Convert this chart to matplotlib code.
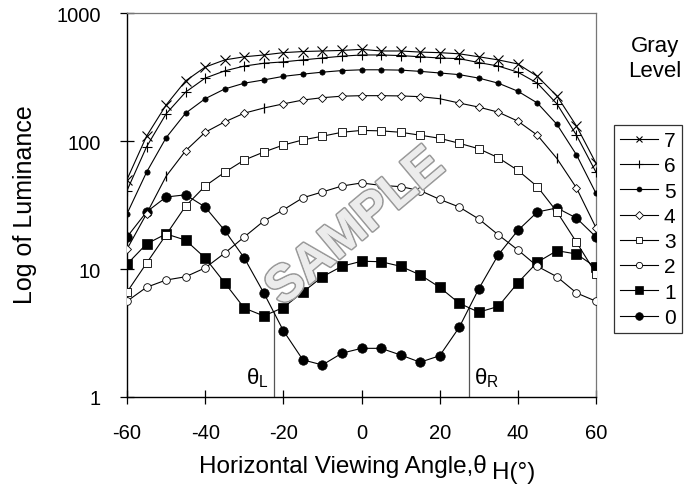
import numpy as np
import matplotlib
matplotlib.use("Agg")
import matplotlib.pyplot as plt
from matplotlib.lines import Line2D
import matplotlib.patheffects as pe

plt.rcParams['font.family'] = ['Liberation Sans', 'DejaVu Sans']
plt.rcParams['mathtext.fontset'] = 'custom'
plt.rcParams['mathtext.rm'] = 'Liberation Sans'
plt.rcParams['mathtext.it'] = 'Liberation Sans'
plt.rcParams['axes.unicode_minus'] = False

angles = list(range(-60, 61, 5))
gray_levels = ['7', '6', '5', '4', '3', '2', '1', '0']

L7 = [50, 109, 191, 295, 378, 430, 455, 470, 490, 500, 505, 510, 520, 505, 505, 495, 490, 480, 455, 430, 400, 320, 225, 131, 67]
L6 = [41, 90, 163, 241, 310, 353, 385, 405, 415, 430, 445, 460, 470, 470, 465, 455, 445, 440, 410, 385, 345, 283, 195, 111, 57]
L5 = [27, 57, 106, 165, 214, 255, 283, 300, 320, 333, 345, 355, 360, 360, 358, 350, 340, 330, 310, 283, 245, 198, 135, 78, 39]
L4 = [14.3, 27, 53, 84, 117, 141, 165, 181, 195, 209, 218, 224, 226, 226, 225, 222, 214, 198, 184, 168, 143, 111, 73, 43, 21]
L3 = [6.6, 11.1, 18.5, 31, 44.5, 57, 71, 82, 93, 102, 109, 117, 121, 120, 117, 111, 105, 96, 87, 74, 59, 44, 28, 16.2, 9.2]
L2 = [5.6, 7.2, 8.2, 8.7, 10.2, 13.3, 17.8, 23.7, 29, 36, 40, 44.5, 47, 45, 44, 41, 35, 30.5, 24.6, 18.5, 14.1, 10.5, 8.7, 6.5, 5.6]
L1 = [10.9, 15.7, 18.8, 16.8, 12.2, 7.8, 4.95, 4.3, 5.0, 6.6, 8.7, 10.5, 11.5, 11.4, 10.5, 9.0, 7.2, 5.4, 4.6, 5.1, 7.8, 11.3, 13.9, 13.1, 10.3]
L0 = [17.8, 27.9, 36.5, 38, 30.5, 20, 12.2, 6.5, 3.3, 1.95, 1.78, 2.2, 2.4, 2.4, 2.13, 1.87, 2.1, 3.5, 7.0, 12.9, 20, 27.9, 30, 25, 17.8]

theta_L = -22.5
theta_L_top = 4.6
theta_R = 27.5
theta_R_top = 5.0

xticks = [-60, -40, -20, 0, 20, 40, 60]
yticks = [1, 10, 100, 1000]
ytick_labels = ['1', '10', '100', '1000']

W, H = 685, 485
fig = plt.figure(figsize=(W / 100, H / 100), dpi=100)
ax = fig.add_axes([127/W, 1-398/H, (596-127)/W, (398-14)/H])

series = [L7, L6, L5, L4, L3, L2, L1, L0]
styles = [
    dict(marker='x', ms=6.5, mfc='none', mec='black', mew=0.8),
    dict(marker='+', ms=7, mfc='none', mec='black', mew=0.8),
    dict(marker='o', ms=3.8, mfc='black', mec='black', mew=0.5),
    dict(marker='D', ms=4.2, mfc='white', mec='black', mew=0.6),
    dict(marker='s', ms=5.5, mfc='white', mec='black', mew=0.6),
    dict(marker='o', ms=5.5, mfc='white', mec='black', mew=0.6),
    dict(marker='s', ms=6.5, mfc='black', mec='black', mew=0.5),
    dict(marker='o', ms=6.8, mfc='black', mec='black', mew=0.5),
]
leg_ms = [5, 6, 3.5, 3.8, 4.5, 4.5, 5.5, 5.5]

glitch = [angles.index(a) for a in (-50, -25, 20, 50)]
order = list(range(len(series)))[::-1]
for z, i in enumerate(order):
    ys = series[i]
    st = dict(styles[i])
    if i == 3:
        normal = [k for k in range(len(angles)) if k not in glitch]
        ax.plot(angles, ys, color='black', lw=0.8, markevery=normal, zorder=3 + z, **st)
        ax.plot(angles, ys, color='black', lw=0, marker='|', ms=7, mew=0.9,
                markevery=glitch, zorder=3 + z)
    else:
        ax.plot(angles, ys, color='black', lw=0.8, zorder=3 + z, **st)

ax.plot([theta_L, theta_L], [1, theta_L_top], color='#555555', lw=0.9, zorder=2)
ax.plot([theta_R, theta_R], [1, theta_R_top], color='#555555', lw=0.9, zorder=2)
ax.text(theta_L - 1.4, 1.27, r'$\theta_{\rm L}$', ha='right', va='baseline', fontsize=16)
ax.text(theta_R + 1.4, 1.27, r'$\theta_{\rm R}$', ha='left', va='baseline', fontsize=16)

ax.set_yscale('log')
ax.set_xlim(-60, 60)
ax.set_ylim(1, 1000)
ax.set_xticks(xticks)
ax.set_yticks(yticks)
ax.set_yticklabels(ytick_labels)
ax.yaxis.set_minor_locator(matplotlib.ticker.NullLocator())
ax.tick_params(axis='both', direction='inout', length=10, width=0.9, labelsize=14.5)
ax.tick_params(axis='x', pad=14)
ax.tick_params(axis='y', pad=14)
for s in ['left', 'bottom']:
    ax.spines[s].set_color('black')
    ax.spines[s].set_linewidth(1.0)
for s in ['top', 'right']:
    ax.spines[s].set_color('#777777')
    ax.spines[s].set_linewidth(0.9)

fig.text(25/W, 1-205/H, 'Log of Luminance', rotation=90, ha='center', va='center', fontsize=18)

ax.text(-1.5, 21, 'SAMPLE', fontsize=37, fontweight='bold', rotation=40,
        ha='center', va='center', color='#ececec', zorder=20,
        path_effects=[pe.withStroke(linewidth=2.4, foreground='#9a9a9a'), pe.Normal()])

handles = []
for i in range(len(series)):
    st = dict(styles[i])
    st['ms'] = leg_ms[i]
    handles.append(Line2D([], [], color='black', lw=0.8, **st))
leg = fig.legend(handles, gray_levels, loc='upper left',
                 bbox_to_anchor=(614/W, 1-126/H), bbox_transform=fig.transFigure,
                 frameon=True, fancybox=False, edgecolor='black', fontsize=15,
                 handlelength=1.8, handletextpad=0.3, labelspacing=0.30,
                 borderpad=0.3, borderaxespad=0)
leg.get_frame().set_linewidth(0.9)
fig.text(655/W, 1-59/H, 'Gray\nLevel', ha='center', va='center', fontsize=16, linespacing=1.25)

# x label: main part + lowered "H(°)"
t1 = fig.text(0, 0, 'Horizontal Viewing Angle,θ', fontsize=17.5, va='baseline')
t2 = fig.text(0, 0, 'H(°)', fontsize=17.5, va='baseline')
fig.canvas.draw()
r = fig.canvas.get_renderer()
w1 = t1.get_window_extent(r).width
w2 = t2.get_window_extent(r).width
gap = 5
x0 = 367 - (w1 + gap + w2) / 2
t1.set_position((x0 / W, 1 - 473 / H))
t2.set_position(((x0 + w1 + gap) / W, 1 - 479 / H))

fig.savefig('out.png', dpi=100)
